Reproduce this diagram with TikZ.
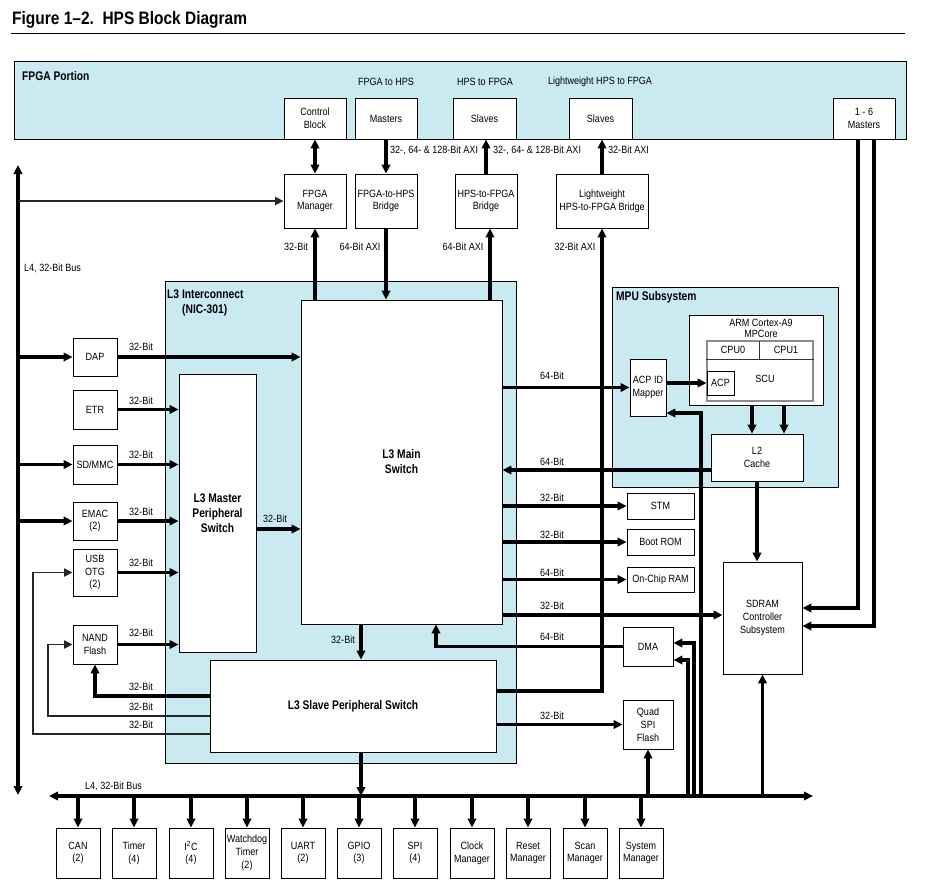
\documentclass[tikz,border=0pt]{standalone}
\usepackage{fontspec}
\setmainfont[FakeStretch=0.86]{Liberation Sans}
\newfontfamily\headfont[FakeStretch=0.82,Ligatures=TeX]{Liberation Sans}
\newfontfamily\titlefont[FakeStretch=0.86,Ligatures=TeX]{Liberation Sans}
\usetikzlibrary{arrows.meta}
\definecolor{panel}{RGB}{202,234,241}

\newcommand\lbl{\fontsize{10.5}{12.8}\selectfont}
\newcommand\hdl{\headfont\bfseries\fontsize{12.5}{15}\selectfont}

% box given by its corners: [options]{name}{x1}{y1}{x2}{y2}{text}
\newcommand\mkbox[7][]{%
  \pgfmathsetmacro\bcx{(#3+#5)/2}%
  \pgfmathsetmacro\bcy{(#4+#6)/2}%
  \pgfmathsetmacro\bw{#5-#3}%
  \pgfmathsetmacro\bh{#6-#4}%
  \node[box,minimum width=\bw pt,minimum height=\bh pt,#1] (#2) at (\bcx,\bcy) {#7};}

\begin{document}
\begin{tikzpicture}[x=1pt,y=-1pt,
  box/.style={draw,line width=0.9pt,fill=white,align=center,inner sep=0pt,font=\lbl},
  area/.style={box,fill=panel},
  lab/.style={inner sep=0pt,font=\lbl},
  head/.style={inner sep=0pt,font=\hdl,align=left},
  arr/.style={line width=3.2pt,-{Triangle[length=9pt,width=8.5pt]}},
  dblarr/.style={line width=3.2pt,{Triangle[length=9pt,width=8.5pt]}-{Triangle[length=9pt,width=8.5pt]}},
  thinarr/.style={line width=1.8pt,draw=black!85,-{Triangle[length=8.5pt,width=8pt]}}]

\fill[white] (0,0) rectangle (935,887);
\useasboundingbox (0,0) rectangle (935,887);

% heading
\node[anchor=base west,inner sep=0pt,font=\titlefont\bfseries\fontsize{18}{21}\selectfont] (title) at (12,24) {Figure 1\textendash2.\ \ HPS Block Diagram};
\draw[line width=1pt] (11,33.5) -- (905,33.5);

% shaded regions
\mkbox[area]{fpga}{14}{61}{906}{139}{}
\mkbox[area]{l3}{165}{281}{516}{763}{}
\mkbox[area]{mpu}{612}{287}{838}{487}{}

\node[head,anchor=west] (t-fpga) at (22,76) {FPGA Portion};
\node[head,anchor=north west] (t-l3) at (167,290) {L3 Interconnect\\\hspace*{15pt}(NIC-301)};
\node[head,anchor=west] (t-mpu) at (616,297) {MPU Subsystem};

\node[lab] (t-f2h) at (386,82) {FPGA to HPS};
\node[lab] (t-h2f) at (485,82) {HPS to FPGA};
\node[lab] (t-lw) at (600,82) {Lightweight HPS to FPGA};

% FPGA side blocks
\mkbox{ctrl}{284}{98}{346}{139}{Control\\Block}
\mkbox{fmast}{355}{98}{417}{139}{Masters}
\mkbox{hslv}{453}{98}{516}{139}{Slaves}
\mkbox{lwslv}{569}{98}{632}{139}{Slaves}
\mkbox{m16}{833}{98}{895}{139}{1 - 6\\Masters}

% bridges
\mkbox{fmgr}{284}{174}{346}{228}{FPGA\\Manager}
\mkbox{f2h}{355}{174}{417}{228}{FPGA-to-HPS\\Bridge}
\mkbox{h2f}{455}{174}{517}{228}{HPS-to-FPGA\\Bridge}
\mkbox{lwh2f}{556}{174}{648}{228}{Lightweight\\HPS-to-FPGA Bridge}

% interconnect switches
\mkbox[font=\hdl]{main}{301}{300}{502}{624}{L3 Main\\Switch}
\mkbox[font=\hdl]{mps}{179}{374}{256}{652}{L3 Master\\Peripheral\\Switch}
\mkbox[font=\hdl]{sps}{210}{660}{496}{752}{L3 Slave Peripheral Switch}

% masters on the left
\mkbox{dap}{73}{338}{117}{376}{DAP}
\mkbox{etr}{73}{390}{117}{429}{ETR}
\mkbox{sdmmc}{73}{445}{117}{484}{SD/MMC}
\mkbox{emac}{73}{502}{117}{540}{EMAC\\(2)}
\mkbox{usb}{73}{549}{117}{596}{USB\\OTG\\(2)}
\mkbox{nand}{73}{625}{117}{664}{NAND\\Flash}

% MPU subsystem
\mkbox{arm}{689}{315}{823}{405}{}
\node[lab,align=center,font=\fontsize{10.5}{11.5}\selectfont] (t-arm) at (761,328.5) {ARM Cortex-A9\\MPCore};
\mkbox[draw=black!45,line width=1.1pt]{cpu}{707}{341}{813}{401}{}
\draw[draw=black!80,line width=0.9pt] (cpu.west |- 0,359) coordinate (cpuL) -- (cpu.east |- cpuL);
\draw[draw=black!80,line width=0.9pt] (759,341) coordinate (cpuT) -- (cpuT |- cpuL);
\node[lab] (t-cpu0) at (733,350) {CPU0};
\node[lab] (t-cpu1) at (786,350) {CPU1};
\node[lab] (t-scu) at (765,379) {SCU};
\mkbox{acp}{707}{371}{734}{395}{ACP}
\mkbox{acpid}{630}{359}{666}{416}{ACP ID\\Mapper}
\mkbox{l2}{711}{434}{803}{481}{L2\\Cache}

% slaves on the right
\mkbox{stm}{627}{493}{694}{519}{STM}
\mkbox{brom}{627}{529}{694}{555}{Boot ROM}
\mkbox{ocram}{627}{567}{694}{592}{On-Chip RAM}
\mkbox{sdram}{723}{562}{802}{674}{SDRAM\\Controller\\Subsystem}
\mkbox{dma}{623}{627}{673}{666}{DMA}
\mkbox{qspi}{623}{700}{673}{749}{Quad\\SPI\\Flash}

% L4 peripherals
\mkbox{can}{56}{828}{100}{878}{CAN\\(2)}
\mkbox{tmr}{112}{828}{156}{878}{Timer\\(4)}
\mkbox{iic}{169}{828}{213}{878}{I\textsuperscript{2}C\\(4)}
\mkbox{wdt}{225}{828}{269}{878}{Watchdog\\Timer\\(2)}
\mkbox{uart}{281}{828}{325}{878}{UART\\(2)}
\mkbox{gpio}{337}{828}{381}{878}{GPIO\\(3)}
\mkbox{spi}{393}{828}{437}{878}{SPI\\(4)}
\mkbox{clk}{450}{828}{494}{878}{Clock\\Manager}
\mkbox{rst}{506}{828}{550}{878}{Reset\\Manager}
\mkbox{scan}{563}{828}{607}{878}{Scan\\Manager}
\mkbox{sysm}{619}{828}{663}{878}{System\\Manager}

% L4 buses
\coordinate (lbtop) at (18,165);
\coordinate (lbbot) at (18,795);
\coordinate (bbl) at (49,796);
\coordinate (bbr) at (813,796);
\draw[dblarr] (lbbot) -- (lbtop);
\draw[dblarr] (bbl) -- (bbr);
\node[lab,anchor=west] (t-lb) at (24,268) {L4, 32-Bit Bus};
\node[lab,anchor=west] (t-bb) at (85,786) {L4, 32-Bit Bus};

% FPGA <-> HPS
\draw[dblarr] (ctrl.south) -- (fmgr.north);
\draw[arr] (fmast.south) -- (f2h.north);
\draw[arr] (h2f.north) -- (h2f.north |- hslv.south);
\draw[arr] (lwh2f.north) -- (lwh2f.north |- lwslv.south);
\node[lab,anchor=west] (t-a1) at (390,150) {32-, 64- \& 128-Bit AXI};
\node[lab,anchor=west] (t-a2) at (493,150) {32-, 64- \& 128-Bit AXI};
\node[lab,anchor=west] (t-a3) at (608,150) {32-Bit AXI};

\draw[arr] (fmgr.south |- main.north) -- (fmgr.south);
\draw[arr] (f2h.south) -- (f2h.south |- main.north);
\draw[arr] ([xshift=4pt]h2f.south |- main.north) -- ([xshift=4pt]h2f.south);
\draw[arr] ([yshift=15pt]sps.east) -| (lwh2f.south);
\node[lab] (t-b1) at (296,247) {32-Bit};
\node[lab] (t-b2) at (360,247) {64-Bit AXI};
\node[lab] (t-b3) at (463,247) {64-Bit AXI};
\node[lab] (t-b4) at (575,247) {32-Bit AXI};

% masters into the interconnect
\draw[thinarr] (lbtop |- fmgr.west) -- (fmgr.west);
\draw[arr] (lbtop |- dap.west) -- (dap.west);
\draw[arr] (lbtop |- sdmmc.west) -- (sdmmc.west);
\draw[arr] (lbtop |- emac.west) -- (emac.west);
\draw[arr] (dap.east) -- (dap.east -| main.west);
\draw[arr] (etr.east) -- (etr.east -| mps.west);
\draw[arr] (sdmmc.east) -- (sdmmc.east -| mps.west);
\draw[arr] (emac.east) -- (emac.east -| mps.west);
\draw[arr] (usb.east) -- (usb.east -| mps.west);
\draw[arr] (nand.east) -- (nand.east -| mps.west);
\draw[arr] ([yshift=-16pt]mps.east) -- ([yshift=-16pt]mps.east -| main.west);
\node[lab] (t-c1) at (141,347) {32-Bit};
\node[lab] (t-c2) at (141,401) {32-Bit};
\node[lab] (t-c3) at (141,455) {32-Bit};
\node[lab] (t-c4) at (141,512) {32-Bit};
\node[lab] (t-c5) at (141,563) {32-Bit};
\node[lab] (t-c6) at (141,633) {32-Bit};
\node[lab] (t-c7) at (275,519) {32-Bit};

% slave switch back to the flash and USB controllers
\coordinate (usbL) at (33,572.5);
\coordinate (nandL) at (48,644.5);
\draw[arr] ([yshift=10pt]sps.west) -| (nand.south);
\draw[thinarr] ([yshift=-10pt]sps.west) -| (nandL) -- (nand.west);
\draw[thinarr] ([yshift=-28pt]sps.west) -| (usbL) -- (usb.west);
\node[lab] (t-d1) at (141,687) {32-Bit};
\node[lab] (t-d2) at (141,707) {32-Bit};
\node[lab] (t-d3) at (141,725) {32-Bit};

% main switch to slaves and MPU
\draw[arr] (main.east |- acpid.west) -- (acpid.west);
\draw[arr] (acpid.east |- acp.west) -- (acp.west);
\draw[arr] ([xshift=-4pt]arm.south) -- ([xshift=-4pt]arm.south |- l2.north);
\draw[arr] ([xshift=28pt]arm.south) -- ([xshift=28pt]arm.south |- l2.north);
\draw[arr] ([yshift=-12.5pt]l2.west) -- ([yshift=-12.5pt]l2.west -| main.east);
\draw[arr] (main.east |- stm.west) -- (stm.west);
\draw[arr] (main.east |- brom.west) -- (brom.west);
\draw[arr] (main.east |- ocram.west) -- (ocram.west);
\draw[arr] ([yshift=3pt]main.east |- sdram.west) -- ([yshift=3pt]sdram.west);
\draw[arr] (dma.west) -| ([xshift=34.5pt]main.south);
\draw[arr] ([xshift=-40.5pt]main.south) -- ([xshift=-40.5pt]main.south |- sps.north);
\draw[arr] (sps.east |- qspi.west) -- (qspi.west);
\draw[arr] ([xshift=8pt]sps.south) -- ([xshift=8pt]sps.south |- bbl);
\draw[arr] (l2.south) -- (l2.south |- sdram.north);
\node[lab] (t-e1) at (552,376) {64-Bit};
\node[lab] (t-e2) at (552,462) {64-Bit};
\node[lab] (t-e3) at (552,498) {32-Bit};
\node[lab] (t-e4) at (552,535) {32-Bit};
\node[lab] (t-e5) at (552,573) {64-Bit};
\node[lab] (t-e6) at (552,606) {32-Bit};
\node[lab] (t-e7) at (552,637) {64-Bit};
\node[lab] (t-e8) at (552,716) {32-Bit};
\node[lab] (t-e9) at (343,640) {32-Bit};

% FPGA masters to SDRAM
\draw[arr] ([xshift=-6pt]m16.south) |- ([yshift=10pt]sdram.east);
\draw[arr] ([xshift=10pt]m16.south) |- ([yshift=-8pt]sdram.east);

% L4 bus taps on the right
\coordinate (vA) at (701,796);
\coordinate (vB) at (694,796);
\coordinate (vC) at (688,796);
\draw[arr] (vA) |- ([yshift=-25.5pt]acpid.east);
\draw[arr] (vB) |- ([yshift=3.5pt]dma.east);
\draw[arr] (vC) |- ([yshift=-13.5pt]dma.east);
\draw[arr] (qspi.south |- bbl) -- (qspi.south);
\draw[arr] (sdram.south |- bbl) -- (sdram.south);

% L4 bus to peripherals
\foreach \p in {can,tmr,iic,wdt,uart,gpio,spi,clk,rst,scan,sysm}
  \draw[arr] (\p.north |- bbl) -- (\p.north);

\end{tikzpicture}
\end{document}
